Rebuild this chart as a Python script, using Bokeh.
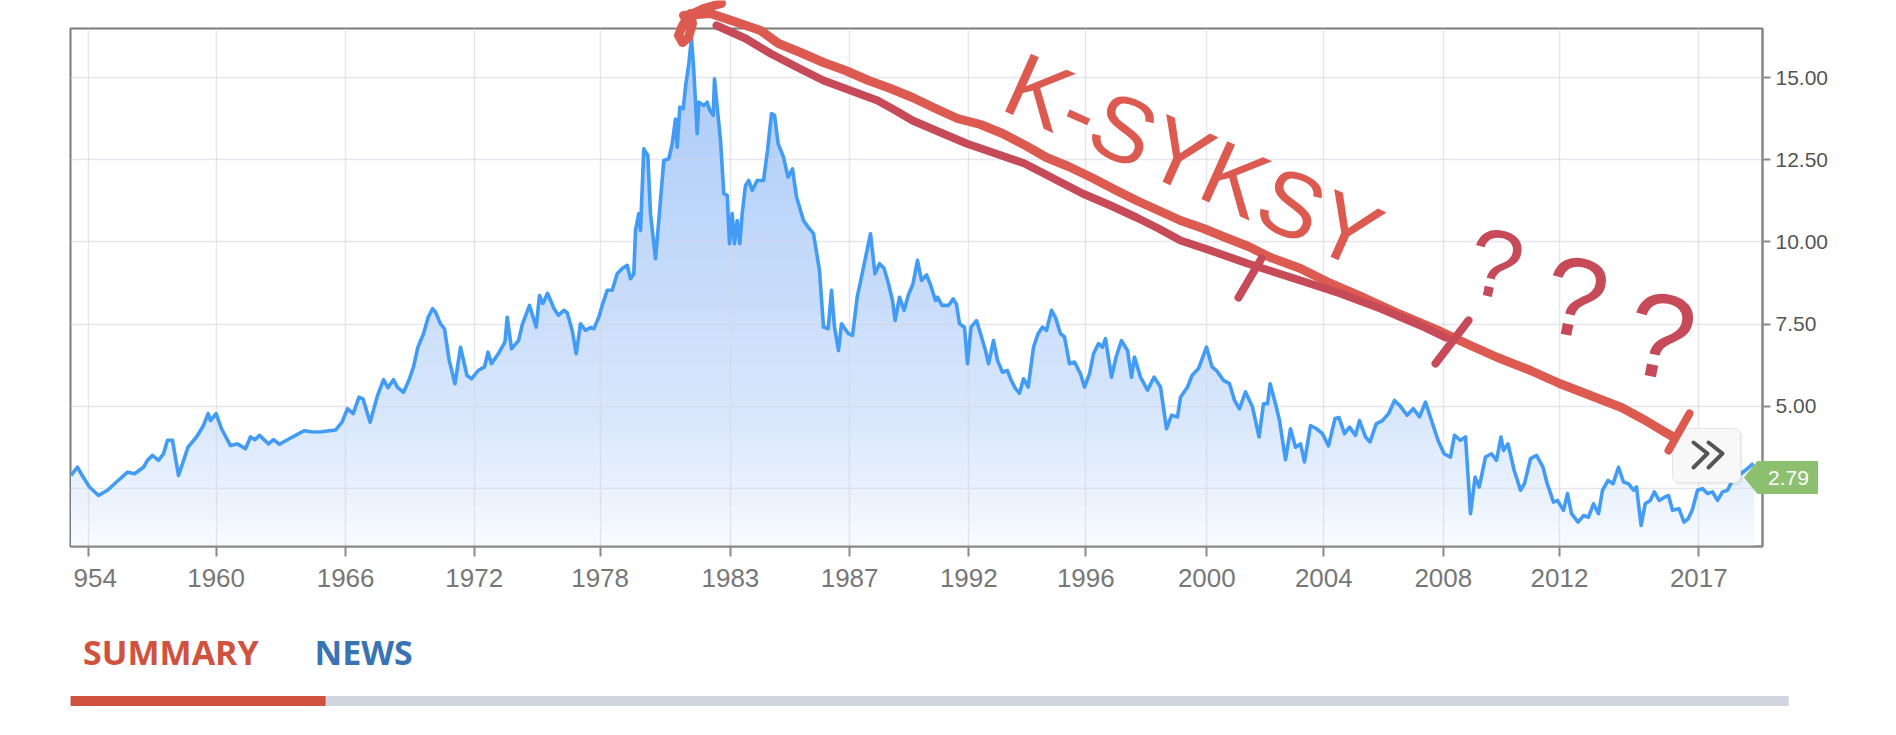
import numpy as np
from bokeh.plotting import figure
from bokeh.models import (Range1d, FixedTicker, PrintfTickFormatter, Label,
                          PolyAnnotation, BoxAnnotation, GridBox, Plot)
from bokeh.embed import file_html
from bokeh.resources import INLINE

# ---------------------------------------------------------------- data
# position of each observation along the chart's ordinal time axis
obs_pos = [
    70.5, 77, 82.6, 89, 98, 107, 116, 127, 134, 143, 147, 152, 158, 163, 167, 172, 178, 187.5,
    196, 203, 207.6, 210, 215.6, 221, 230, 237, 245, 250, 254.5, 259, 268, 273, 279, 286, 295,
    303.6, 312.5, 321, 335, 341.5, 347, 352.7, 358.5, 362.5, 369.6, 377, 383, 387.5, 393, 397,
    403, 408.5, 413, 417.4, 423, 427.7, 432, 435, 440, 444, 448.7, 454.5, 460, 466.5, 471,
    477.7, 484, 487.5, 491, 497.8, 504.5, 506.7, 511, 518, 522, 529, 535.7, 539, 542.4, 547,
    553.6, 558, 563.3, 566.7, 571.7, 575.7, 580, 585, 590, 593.3, 598.3, 601.7, 606.7, 611.7,
    616.7, 621.7, 626.7, 630, 633.3, 635, 638.3, 640, 643.3, 647.3, 650, 655, 660, 663.3,
    668.3, 671.7, 675, 676.7, 679.3, 682.7, 685, 688.3, 691, 693.3, 696.7, 698.3, 703.3,
    706.7, 709.3, 712.7, 714, 716.7, 720, 723.3, 726.7, 729, 731.7, 734, 736.7, 739.3, 741.7,
    745, 748.3, 751.7, 756.7, 763, 767, 771, 774, 777.7, 783, 787.5, 792, 796, 803, 807.6,
    813, 819, 823, 827.7, 831, 834, 838, 841, 848, 852, 856.7, 863, 870, 874.5, 879, 883.5,
    888, 892, 894.6, 899, 903.6, 908, 912.5, 917, 921, 926, 930, 935, 937, 941.5, 948, 952.7,
    956, 959, 964, 967, 970.5, 976, 980, 985, 988, 993, 997, 1002, 1007, 1010.7, 1015, 1019,
    1023, 1027.7, 1033, 1037.5, 1042, 1046, 1051, 1055, 1060, 1064, 1069, 1074, 1080, 1084,
    1089, 1093, 1098, 1102, 1105, 1111, 1115.6, 1121, 1127, 1131, 1134, 1140, 1147, 1153.6,
    1160, 1166, 1171, 1177, 1180, 1187, 1191.5, 1198, 1206, 1211.6, 1216, 1223, 1229, 1234,
    1239, 1245, 1252, 1258.5, 1263, 1267, 1269.6, 1275, 1279, 1285, 1290, 1295, 1300, 1304,
    1310, 1316, 1322, 1328, 1334.5, 1338.6, 1344, 1349, 1355, 1359, 1365, 1369.5, 1375.7,
    1382, 1388, 1394, 1400, 1406.6, 1412.7, 1419, 1425, 1431, 1437.5, 1443.6, 1450, 1454,
    1460, 1465, 1470, 1474.6, 1478.7, 1485, 1491, 1496, 1500.5, 1503, 1507.5, 1513.7, 1520,
    1524, 1530, 1536, 1542.5, 1546.7, 1553, 1557, 1563, 1567, 1571, 1577.6, 1583, 1588, 1593,
    1598, 1602, 1607.6, 1612.6, 1618, 1623, 1628, 1633, 1636, 1640.6, 1644.7, 1649.7, 1653.8,
    1658.7, 1664, 1668, 1672, 1678.5, 1683.5, 1687.6, 1691.7, 1697, 1702, 1707, 1712, 1717,
    1722, 1727, 1732, 1738, 1744.5, 1750.6, 1753,
]
yield_pct = [
    2.90, 3.15, 2.85, 2.55, 2.29, 2.45, 2.70, 3.00, 2.95, 3.15, 3.36, 3.51, 3.36, 3.56, 3.97, 3.97, 2.90, 3.76,
    4.07, 4.42, 4.78, 4.57, 4.78, 4.32, 3.81, 3.86, 3.71, 4.07, 3.99, 4.12, 3.86, 3.99, 3.85, 3.97, 4.12,
    4.26, 4.22, 4.23, 4.28, 4.52, 4.93, 4.78, 5.28, 5.23, 4.52, 5.33, 5.81, 5.57, 5.81, 5.58,
    5.43, 5.80, 6.20, 6.80, 7.21, 7.71, 7.97, 7.87, 7.51, 7.36, 6.40, 5.69, 6.80, 5.94, 5.84,
    6.09, 6.20, 6.65, 6.30, 6.60, 6.96, 7.71, 6.75, 7.00, 7.51, 8.07, 7.41, 8.37, 8.13, 8.44,
    7.97, 7.77, 7.92, 7.85, 7.31, 6.60, 7.51, 7.31, 7.40, 7.36, 7.71, 8.07, 8.53, 8.53,
    9.03, 9.19, 9.29, 8.88, 9.03, 10.35, 10.86, 10.35, 12.83, 12.63, 10.86, 9.49, 11.26, 12.48,
    12.53, 12.98, 13.74, 12.88, 14.10, 14.05, 14.71, 15.42, 16.20, 15.20, 13.29, 14.25, 14.15,
    14.25, 14.00, 13.85, 14.96, 14.10, 13.09, 11.47, 11.42, 9.95, 10.86, 9.95, 10.65, 9.95, 10.86,
    11.72, 11.87, 11.57, 11.87, 11.87, 12.78, 13.90, 13.85, 12.98, 12.58, 11.97, 12.22, 11.37, 10.65, 10.45,
    10.25, 9.13, 7.41, 7.36, 8.53, 7.41, 6.70, 7.51, 7.21, 7.16, 8.32, 9.23, 10.25, 9.03, 9.34, 9.20,
    8.73, 8.22, 7.61, 8.32, 7.92, 8.40, 8.73, 9.44, 8.83, 9.00, 8.70, 8.22, 8.32, 8.07, 8.07, 8.27,
    8.10, 7.51, 7.41, 6.30, 7.41, 7.61, 7.21, 6.70, 6.30, 7.00, 6.40, 6.04, 6.09, 5.79, 5.54, 5.40,
    5.84, 5.59, 6.80, 7.21, 7.41, 7.31, 7.92, 7.70, 7.21, 7.11, 6.30, 6.35, 5.99, 5.59,
    5.99, 6.60, 6.91, 6.80, 7.06, 5.89, 6.50, 7.00, 6.70, 5.89, 6.50, 5.89, 5.49, 5.89,
    5.59, 4.32, 4.73, 4.68, 5.28, 5.59, 5.94, 6.15, 6.80, 6.20, 6.09, 5.79, 5.69, 5.18,
    4.93, 5.44, 4.98, 4.07, 5.08, 5.08, 5.69, 5.08, 4.57, 3.38, 4.32, 3.76, 3.86, 3.31,
    4.42, 4.32, 4.17, 3.80, 4.63, 4.66, 4.17, 4.37, 4.12, 4.57, 4.07, 3.92, 4.47,
    4.57, 4.78, 5.18, 5.00, 4.73, 4.93, 4.68, 5.13, 4.57, 3.97, 3.56, 3.46, 4.12,
    3.97, 4.07, 1.74, 2.85, 2.55, 3.46, 3.56, 3.36, 4.07, 3.66, 3.86, 3.05, 2.45,
    2.65, 3.41, 3.51, 3.15, 2.65, 2.09, 2.14, 1.84, 2.35, 1.74, 1.48, 1.68, 1.63, 2.04,
    1.74, 2.45, 2.75, 2.65, 3.15, 2.70, 2.65, 2.45, 2.55, 1.38, 2.04, 2.14, 2.40,
    2.14, 2.24, 2.29, 1.84, 1.89, 1.48, 1.58, 1.84, 2.45, 2.50, 2.35, 2.40, 2.14,
    2.40, 2.45, 2.75, 2.90, 3.05, 3.21, 3.27,
]
tick_pos = [87.5, 215.6, 345.1, 473.7, 599.6, 729.9, 849.1, 968.3, 1085.3, 1206.3,
            1323.3, 1442.8, 1559.0, 1698.3]
# first label is cut at the chart edge in the source ("1954" -> "954")
tick_labels = ["\u2007954", "1960", "1966", "1972", "1978", "1983", "1987", "1992", "1996",
               "2000", "2004", "2008", "2012", "2017"]
y_ticks = [2.5, 5.0, 7.5, 10.0, 12.5, 15.0]
last_value = "2.79"
tab_labels = ["SUMMARY", "NEWS"]
note_text = "K-SYKSY"

HAS_FRAME_ALIGN = "frame_align" in Plot.properties()
W = 1888

# ---------------------------------------------------------------- main chart
X0, X1 = 70, 1762
Y0, Y1 = 0.74, 16.49
p = figure(width=W, height=608, x_range=Range1d(X0, X1), y_range=Range1d(Y0, Y1),
           y_axis_location="right", output_backend="svg", toolbar_location=None,
           min_border_left=70, min_border_right=126, min_border_top=28, min_border_bottom=62,
           background_fill_color="white", border_fill_color="white")
p.outline_line_color = "#7a7a7a"
p.outline_line_width = 2

xs = np.array(obs_pos)
vals = np.array(yield_pct)

# vertical gradient of the area, approximated by stacked bands
anch_v = [0.74, 2.35, 4.97, 8.43, 12.48, 16.49]
anch_a = [0.03, 0.115, 0.22, 0.30, 0.39, 0.45]
base = (72, 140, 240)
step = 0.25
for hi in np.arange(16.5, Y0, -step):
    a = float(np.interp(hi - step / 2, anch_v, anch_a))
    col = "#%02x%02x%02x" % tuple(int(round(255 - a * (255 - b))) for b in base)
    p.varea(x=xs, y1=0.0, y2=np.minimum(vals, hi), fill_color=col, level="image")

p.line(xs, vals, line_color="#429bf5", line_width=3.6, line_join="round")

p.xaxis.ticker = FixedTicker(ticks=tick_pos)
p.xaxis.major_label_overrides = dict(zip(tick_pos, tick_labels))
p.yaxis.ticker = FixedTicker(ticks=y_ticks)
p.yaxis.formatter = PrintfTickFormatter(format="%.2f")
p.yaxis.major_label_overrides = {2.5: ""}
for ax in (p.xaxis, p.yaxis):
    ax.axis_line_color = "#8a8a8a"
    ax.axis_line_width = 2
    ax.major_tick_line_color = "#8a8a8a"
    ax.major_tick_line_width = 2
    ax.major_tick_in = 0
    ax.minor_tick_line_color = None
    ax.major_label_text_font = "Liberation Sans"
p.xaxis.major_tick_out = 10
p.xaxis.major_label_standoff = 6
p.xaxis.major_label_text_font_size = "26px"
p.xaxis.major_label_text_color = "#777777"
p.yaxis.major_tick_out = 8
p.yaxis.major_label_standoff = 5
p.yaxis.major_label_text_font_size = "21px"
p.yaxis.major_label_text_color = "#555555"
p.grid.grid_line_color = "#d6d6e2"
p.grid.grid_line_alpha = 0.6
p.grid.grid_line_width = 1.5
p.grid.level = "underlay"

# ---------------------------------------------------------------- overlay (hand drawing, badges)
ov = figure(width=W, height=608, x_range=Range1d(0, W), y_range=Range1d(608, 0),
            output_backend="svg", toolbar_location=None, min_border=0,
            background_fill_color=None, border_fill_color=None)
ov.axis.visible = False
ov.grid.visible = False
ov.outline_line_color = None
if HAS_FRAME_ALIGN:
    ov.frame_align = False


def stroke(pts, color, width, alpha=1.0):
    sx = [q[0] for q in pts]
    sy = [q[1] for q in pts]
    ov.add_layout(PolyAnnotation(xs=sx + sx[::-1], ys=sy + sy[::-1], fill_color=None,
                                 fill_alpha=0, line_color=color, line_width=width,
                                 line_alpha=alpha, line_join="round", line_cap="round"))


# chevron button
ov.add_layout(BoxAnnotation(left=1674, right=1742, top=430, bottom=485, fill_color="black",
                            fill_alpha=0.05, line_color=None, border_radius=6))
ov.add_layout(BoxAnnotation(left=1672, right=1740, top=428, bottom=482, fill_color="#f8f8f8",
                            fill_alpha=1, line_color="#e4e4e4", line_alpha=1, line_width=1,
                            border_radius=6))
stroke([(1693, 442), (1707, 453), (1693, 467)], "#555555", 4)
stroke([(1708, 442), (1722, 453), (1708, 467)], "#555555", 4)

# last value badge
ov.add_layout(PolyAnnotation(xs=[1744, 1757, 1817, 1817, 1757], ys=[477, 461, 461, 493, 493],
                             fill_color="#8cc06e", fill_alpha=1, line_color="#8cc06e",
                             line_alpha=1, line_width=1, line_join="round"))
ov.add_layout(Label(x=1788, y=477, text=last_value, text_align="center", text_baseline="middle",
                    text_font="Liberation Sans", text_font_size="21px", text_color="white"))

LIGHT = "#dc5a50"
DARK = "#c64a57"
upper = [(683, 15), (710, 13), (734, 21), (760, 30), (778, 43), (800, 52), (823, 62), (845, 70),
         (868, 80), (890, 88), (912, 97), (935, 108), (957, 118), (980, 124), (1002, 133),
         (1025, 145), (1046, 157), (1068, 166), (1091, 177), (1114, 189), (1136, 200),
         (1158, 210), (1180, 220), (1203, 228), (1225, 237), (1248, 246), (1270, 257),
         (1300, 268), (1330, 283), (1365, 298), (1400, 314), (1440, 331), (1470, 345),
         (1497, 357), (1530, 370), (1559, 383), (1590, 395), (1621, 407), (1645, 420),
         (1665, 432), (1672, 436)]
lower = [(716, 25), (745, 38), (770, 53), (797, 67), (823, 80), (850, 90), (877, 100),
         (895, 110), (912, 120), (940, 132), (966, 143), (995, 153), (1024, 163), (1053, 178),
         (1082, 193), (1110, 205), (1136, 217), (1158, 228), (1180, 240), (1210, 250),
         (1247, 263), (1275, 272), (1300, 280), (1340, 293), (1380, 308), (1420, 325),
         (1445, 337)]
stroke(upper, LIGHT, 9)
stroke(lower, DARK, 8)
stroke([(721, 3), (703, 8), (688, 15), (682, 25), (678, 35), (682, 42), (688, 37),
        (692, 23), (690, 13)], LIGHT, 9)
stroke([(1261, 258), (1238, 297)], DARK, 8)
stroke([(1468, 320), (1435, 363)], DARK, 8)
stroke([(1689, 413), (1668, 450)], LIGHT, 8)

ov.add_layout(Label(x=1193, y=160, text=note_text, angle=-0.42, text_align="center",
                    text_baseline="middle", text_font="Liberation Sans", text_font_size="92px",
                    text_color=LIGHT))
for qx, qy, qs in [(1495, 263, "96px"), (1575, 297, "112px"), (1660, 335, "120px")]:
    ov.add_layout(Label(x=qx, y=qy, text="?", angle=-0.2, text_align="center",
                        text_baseline="middle", text_font="Liberation Sans",
                        text_font_size=qs, text_color=DARK))

# ---------------------------------------------------------------- tab bar
t = figure(width=W, height=119, x_range=Range1d(0, W), y_range=Range1d(727, 608),
           output_backend="svg", toolbar_location=None, min_border=0,
           background_fill_color="white", border_fill_color="white")
t.axis.visible = False
t.grid.visible = False
t.outline_line_color = None
if HAS_FRAME_ALIGN:
    t.frame_align = False
t.quad(left=[324.6], right=[1787.7], top=[696], bottom=[705], color="#d1d5de")
t.quad(left=[70.5], right=[324.6], top=[696], bottom=[705], color="#d05340")
t.add_layout(Label(x=82.6, y=651, text=tab_labels[0], text_baseline="alphabetic",
                   text_font="Open Sans", text_font_style="bold", text_font_size="34px",
                   text_color="#d05340"))
t.add_layout(Label(x=314, y=651, text=tab_labels[1], text_baseline="alphabetic",
                   text_font="Open Sans", text_font_style="bold", text_font_size="34px",
                   text_color="#3a73b3"))

layout = GridBox(children=[(p, 0, 0), (ov, 0, 0), (t, 1, 0)], spacing=0)
open("out.html", "w").write(file_html(layout, INLINE))
